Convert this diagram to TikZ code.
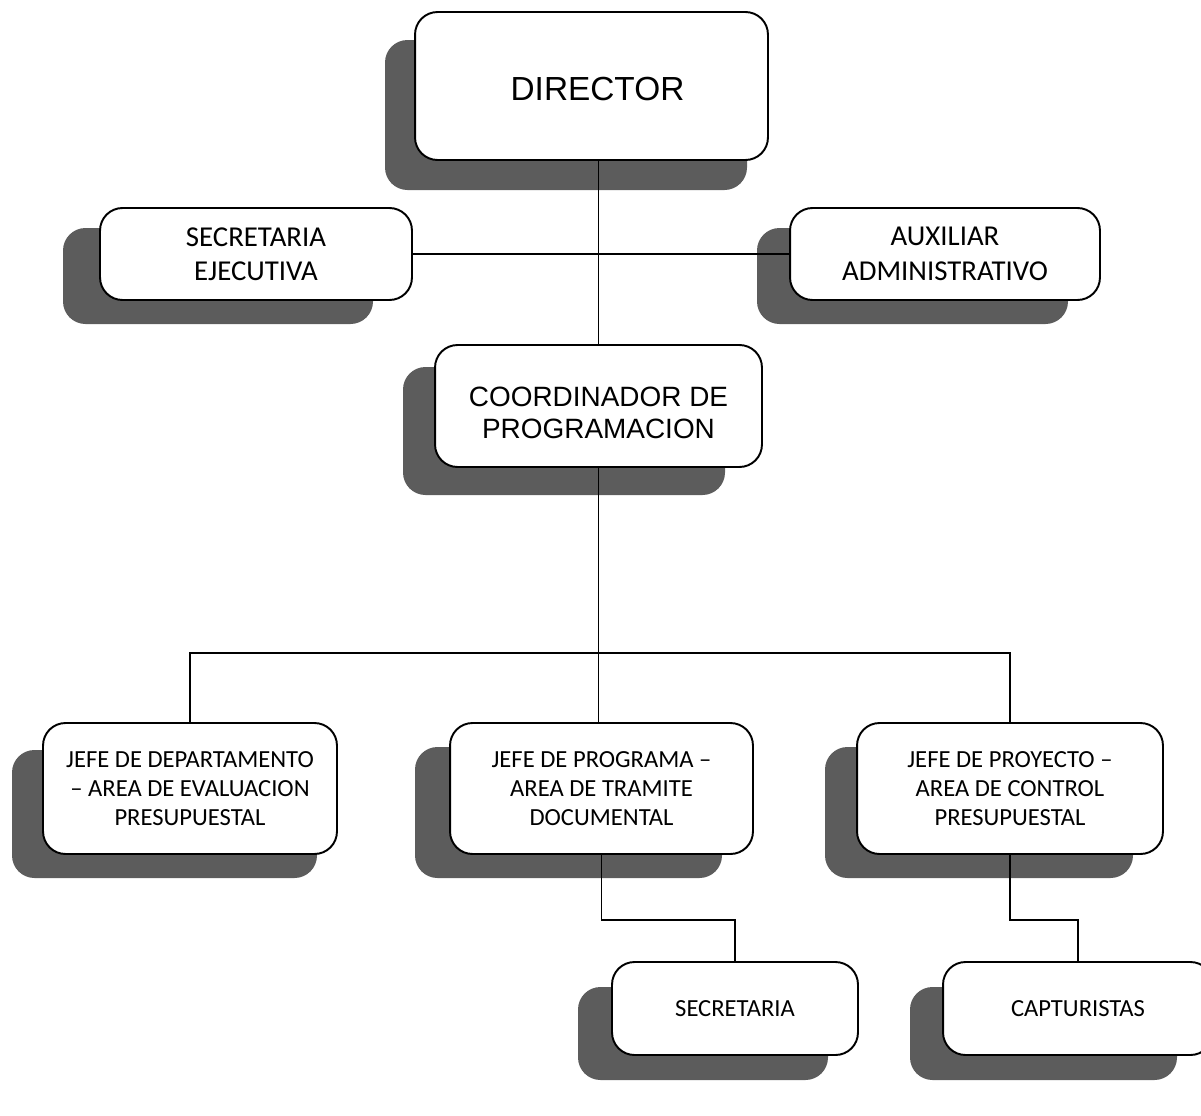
\documentclass[tikz,border=0pt]{standalone}
\usepackage{fontspec}
\setmainfont{Carlito}
\newfontfamily\arialf{Liberation Sans}
\usetikzlibrary{backgrounds}
\definecolor{shadowc}{gray}{0.36}
\tikzset{
  box/.style={draw=black, line width=1.1pt, fill=white, rounded corners=0.45cm, align=center, inner sep=0pt},
  bigfont/.style={font={\arialf\fontsize{19pt}{21pt}\selectfont}},
  midfont/.style={font={\arialf\fontsize{15.9pt}{18.1pt}\selectfont}},
  secfont/.style={font={\fontsize{16.4pt}{19.6pt}\selectfont}},
  smallfont/.style={font={\fontsize{14pt}{16.5pt}\selectfont}},
  shade/.style={fill=shadowc, rounded corners=0.45cm},
  link/.style={draw=black, line width=0.85pt}
}
\begin{document}
\begin{tikzpicture}[x=0.02cm, y=-0.02cm]
\useasboundingbox (0,0) rectangle (1201,1116);

% boxes
\node[box, bigfont, minimum width=7.06cm, minimum height=2.96cm] (dir) at (591.5,86) {\hspace*{0.24cm}\rule{0pt}{17pt}DIRECTOR};
\node[box, secfont, minimum width=6.24cm, minimum height=1.84cm] (sec) at (256,254) {SECRETARIA\\EJECUTIVA};
\node[box, secfont, minimum width=6.2cm, minimum height=1.84cm] (aux) at (945,254) {AUXILIAR\\ADMINISTRATIVO};
\node[box, midfont, minimum width=6.54cm, minimum height=2.44cm] (coord) at (598.5,406) {\rule{0pt}{19pt}COORDINADOR DE\\PROGRAMACION};
\node[box, smallfont, minimum width=5.88cm, minimum height=2.62cm] (jdep) at (190,788.5) {JEFE DE DEPARTAMENTO\\-- AREA DE EVALUACION\\PRESUPUESTAL};
\node[box, smallfont, minimum width=6.06cm, minimum height=2.62cm] (jprog) at (601.5,788.5) {JEFE DE PROGRAMA --\\AREA DE TRAMITE\\DOCUMENTAL};
\node[box, smallfont, minimum width=6.12cm, minimum height=2.62cm] (jproy) at (1010,788.5) {JEFE DE PROYECTO --\\AREA DE CONTROL\\PRESUPUESTAL};
\node[box, smallfont, minimum width=4.92cm, minimum height=1.86cm] (secr) at (735,1008.5) {SECRETARIA};
\node[box, smallfont, minimum width=5.4cm, minimum height=1.86cm] (capt) at (1078,1008.5) {CAPTURISTAS};

% shadows and connectors behind the boxes
\begin{scope}[on background layer]
\fill[shade] (385,40) rectangle (747,190);
\fill[shade] (63,228) rectangle (373,324);
\fill[shade] (757,228) rectangle (1068,324);
\fill[shade] (403,367) rectangle (725,495);
\fill[shade] (12,750) rectangle (317,878);
\fill[shade] (415,747) rectangle (722,878);
\fill[shade] (825,747) rectangle (1133,878);
\fill[shade] (578,987) rectangle (828,1080);
\fill[shade] (910,987) rectangle (1177,1080);
\draw[link] (dir.south -| coord.north) -- (coord.north);
\draw[link] (sec.east) -- (aux.west);
\coordinate (bar) at (598.5,653);
\draw[link] (coord.south) -- (jprog.north -| coord.south);
\draw[link] (jdep.north) |- (bar) -| (jproy.north);
\draw[link] (jprog.south) -- ++(0,65) -| (secr.north);
\draw[link] (jproy.south) -- ++(0,65) -| (capt.north);
\end{scope}
\end{tikzpicture}
\end{document}
